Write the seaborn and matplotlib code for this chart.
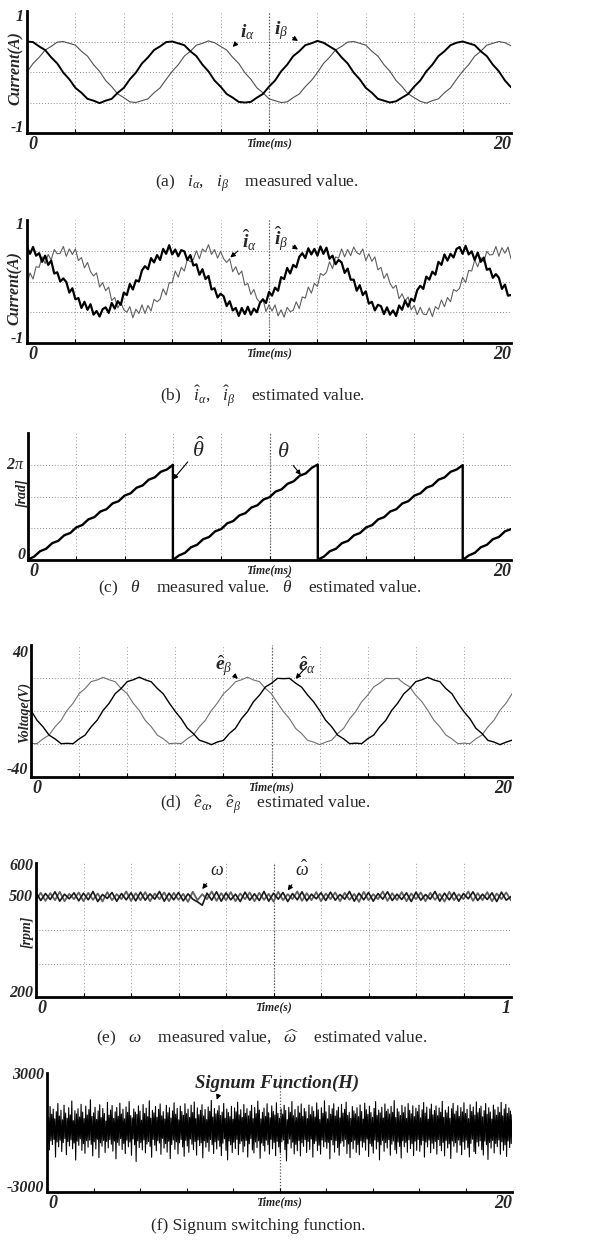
import numpy as np
import matplotlib
matplotlib.use("Agg")
import matplotlib.pyplot as plt
import seaborn as sns

# ---------------- data ----------------
# (a) measured currents, sampled every 0.25 ms
t_a = np.linspace(0, 20, 81)
i_alpha = [.00, .14, .24, .36, .42, .49, .50, .47, .44, .34, .26, .12, .01, -.14, -.24, -.36, -.42, -.49, -.50, -.47, -.44, -.34, -.26, -.12,
           .01, .12, .26, .34, .44, .47, .51, .48, .42, .36, .24, .14, -.01, -.12, -.26, -.34, -.44, -.47, -.50, -.49, -.42, -.36, -.24, -.14,
           -.01, .14, .24, .36, .42, .49, .50, .47, .44, .34, .26, .12, .01, -.14, -.24, -.36, -.42, -.48, -.51, -.47, -.44, -.34, -.26, -.12,
           .01, .12, .26, .34, .44, .47, .50, .48, .43]
i_beta = [.50, .49, .42, .36, .24, .14, -.01, -.12, -.26, -.34, -.44, -.47, -.51, -.47, -.44, -.34, -.26, -.12, -.01, .14, .24, .36, .42, .49,
          .50, .47, .44, .34, .26, .12, .01, -.14, -.24, -.36, -.42, -.49, -.50, -.49, -.42, -.36, -.24, -.14, .01, .12, .26, .34, .44, .47,
          .51, .48, .42, .36, .24, .14, -.01, -.12, -.26, -.34, -.44, -.47, -.50, -.48, -.42, -.36, -.24, -.14, .01, .12, .26, .34, .44, .48,
          .50, .47, .44, .34, .26, .12, .01, -.14, -.25]

# (b) estimated currents, sampled every 0.125 ms
t_b = np.linspace(0, 20, 161)
i_alpha_hat = [-.04, .14, .04, .24, .23, .40, .29, .44, .35, .52,
               .45, .46, .57, .41, .53, .44, .53, .34, .39, .22,
               .31, .16, .09, .14, -.09, -.02, -.15, -.09, -.31, -.26,
               -.43, -.34, -.46, -.50, -.41, -.59, -.45, -.52, -.38, -.52,
               -.39, -.48, -.29, -.33, -.29, -.12, -.22, -.02, -.02, .17,
               .07, .23, .17, .36, .32, .36, .50, .37, .53, .48,
               .60, .44, .52, .38, .49, .37, .31, .37, .16, .24,
               .11, .17, -.06, -.03, -.21, -.13, -.28, -.34, -.28, -.49,
               -.38, -.48, -.38, -.56, -.46, -.58, -.42, -.49, -.47, -.33,
               -.44, -.25, -.27, -.09, -.19, -.03, -.08, .13, .10, .15,
               .32, .21, .40, .38, .53, .40, .52, .42, .56, .47,
               .44, .53, .34, .45, .33, .40, .19, .23, .05, .13,
               -.03, -.11, -.06, -.28, -.20, -.32, -.25, -.46, -.39, -.54,
               -.42, -.53, -.54, -.43, -.57, -.41, -.45, -.30, -.41, -.26,
               -.33, -.13, -.16, -.11, .07, -.02, .18, .17, .35, .24,
               .39, .32, .49, .43, .44, .57, .41, .55, .46, .56,
               .37]
i_beta_hat = [.56, .45, .56, .42, .46, .32, .42, .27, .34, .13,
              .15, .00, .05, -.01, -.18, -.11, -.29, -.27, -.43, -.33,
              -.46, -.37, -.54, -.48, -.57, -.45, -.42, -.51, -.35, -.44,
              -.32, -.38, -.18, -.22, -.04, -.13, .02, .00, .18, .25,
              .20, .38, .31, .43, .35, .53, .45, .59, .44, .52,
              .41, .51, .49, .35, .43, .26, .28, .11, .20, .04,
              .09, -.13, -.11, -.26, -.20, -.24, -.40, -.32, -.47, -.43,
              -.56, -.43, -.53, -.41, -.54, -.44, -.50, -.35, -.29, -.35,
              -.17, -.23, -.10, -.15, .07, .04, .22, .13, .27, .23,
              .40, .46, .38, .54, .44, .53, .42, .57, .45, .55,
              .37, .42, .28, .35, .31, .14, .21, .03, .03, -.15,
              -.06, -.22, -.16, -.36, -.33, -.47, -.38, -.40, -.53, -.42,
              -.54, -.47, -.56, -.39, -.46, -.31, -.41, -.28, -.32, -.14,
              -.07, -.12, .08, .03, .16, .11, .32, .27, .44, .34,
              .45, .39, .53, .56, .45, .58, .44, .49, .35, .47,
              .32, .39, .19, .21, .06, .12, .06, -.12, -.05, -.23,
              -.22]

# (c) rotor angle (measured and estimated traces lie on top of each other)
t_theta = np.concatenate([np.linspace(0, 6, 25), np.linspace(6, 12, 25),
                          np.linspace(12, 18, 25), np.linspace(18, 20, 9)])
theta = [0.03, .22, .58, .74, 1.11, 1.26, 1.63, 1.78, 2.15, 2.31, 2.68, 2.83, 3.20, 3.35, 3.73, 3.88, 4.25, 4.40, 4.77, 4.92, 5.30, 5.45, 5.82, 5.97, 6.28,
         0.00, .30, .47, .84, 1.00, 1.37, 1.52, 1.89, 2.04, 2.42, 2.57, 2.94, 3.09, 3.46, 3.61, 3.99, 4.14, 4.51, 4.66, 5.03, 5.19, 5.56, 5.71, 6.08, 6.30,
         0.03, .22, .58, .74, 1.11, 1.26, 1.63, 1.78, 2.15, 2.30, 2.68, 2.83, 3.20, 3.35, 3.73, 3.88, 4.25, 4.40, 4.77, 4.92, 5.30, 5.45, 5.82, 5.97, 6.26,
         0.00, .30, .47, .84, 1.00, 1.37, 1.52, 1.89, 2.04]

# (d) estimated back-EMF, sampled every 0.25 ms
t_d = np.linspace(0, 20, 81)
e_alpha_hat = [0.3, -5.6, -9.6, -14.6, -16.9, -19.8, -19.6, -19.8, -16.9, -14.6, -9.6, -5.6, 0.4, 4.7, 10.5, 13.7, 17.8, 18.9, 20.5, 18.9, 17.7, 13.7, 10.4, 4.8,
               -0.3, -4.8, -10.4, -13.7, -17.7, -18.9, -20.4, -18.8, -17.8, -13.6, -10.5, -4.7, -0.4, 5.6, 9.6, 14.6, 16.8, 19.8, 19.6, 19.8, 16.9, 14.5, 9.7, 5.6,
               0.3, -5.6, -9.5, -14.6, -16.9, -19.8, -19.5, -19.8, -16.8, -14.6, -9.6, -5.7, 0.4, 4.8, 10.4, 13.7, 17.8, 18.9, 20.4, 18.8, 17.8, 13.6, 10.5, 4.7,
               -0.4, -4.7, -10.5, -13.6, -17.8, -18.8, -20.4, -18.9, -17.7]
e_beta_hat = [-19.6, -19.8, -16.9, -14.6, -9.6, -5.7, 0.4, 4.7, 10.5, 13.6, 17.8, 18.8, 20.4, 18.9, 17.8, 13.6, 10.5, 4.7, 0.4, -5.7, -9.5, -14.6, -16.8, -19.8,
              -19.5, -19.8, -16.8, -14.6, -9.6, -5.6, 0.3, 4.8, 10.4, 13.7, 17.7, 18.9, 20.5, 18.8, 17.8, 13.6, 10.4, 4.8, -0.4, -4.7, -10.5, -13.6, -17.8, -18.8,
              -20.4, -18.9, -17.7, -13.7, -10.5, -4.7, -0.3, 5.6, 9.6, 14.6, 16.9, 19.8, 19.6, 19.8, 16.8, 14.6, 9.5, 5.7, 0.4, -5.6, -9.6, -14.5, -16.9, -19.8,
              -19.5, -19.8, -16.8, -14.6, -9.6, -5.6, 0.4, 4.7, 10.4]

# (e) speed, sampled every 10 ms over 1 s
t_e = np.linspace(0, 1, 101)
omega = [512, 488, 509, 491, 514, 486, 507, 493, 511, 487,
         510, 490, 515, 485, 506, 494, 512, 486, 509, 490,
         511, 487, 513, 489, 508, 492, 515, 486, 510, 490,
         512, 487, 508, 492, 484, 474, 510, 489, 514, 486,
         511, 490, 507, 485, 513, 489, 508, 488, 515, 486,
         510, 492, 512, 485, 509, 490, 514, 487, 507, 493,
         511, 488, 513, 489, 506, 492, 515, 486, 510, 490,
         512, 486, 509, 492, 514, 488, 507, 491, 511, 485,
         513, 489, 506, 492, 515, 486, 510, 490, 512, 486,
         509, 493, 514, 488, 507, 491, 511, 485, 513, 489,
         500]
omega_hat = [490, 511, 487, 510, 489, 514, 486, 508, 492, 512,
             486, 511, 490, 509, 485, 513, 489, 507, 492, 515,
             487, 510, 489, 513, 486, 509, 492, 512, 486, 511,
             490, 508, 484, 514, 489, 507, 492, 515, 487, 510,
             489, 513, 486, 509, 492, 512, 486, 511, 490, 508,
             485, 514, 489, 507, 492, 515, 487, 510, 489, 513,
             486, 509, 492, 512, 486, 511, 490, 508, 484, 514,
             489, 507, 492, 515, 487, 510, 489, 513, 486, 509,
             492, 512, 486, 511, 490, 508, 485, 514, 489, 507,
             492, 515, 487, 510, 489, 513, 486, 509, 492, 512,
             488]

# (f) signum switching function H, sampled every 1/30 ms
t_f = np.linspace(0, 20, 601)
signum_h = [1020, -540, 760, -880, 1310, -420, 920, -610, 1180, -350, 690, -1240, 1050, -480, 1460, -720, 830, -390, 1120, -960,
            640, -510, 1380, -300, 980, -1120, 720, -460, 1250, -680, 890, -370, 1590, -820, 600, -530, 1100, -1390, 940, -440,
            1200, -650, 780, -320, 1420, -900, 1030, -560, 700, -1050, 1330, -410, 880, -740, 1150, -380, 1650, -600, 810, -1180,
            990, -470, 1270, -830, 660, -340, 1090, -1270, 1400, -520, 750, -690, 1210, -400, 960, -1010, 580, -450, 1520, -780,
            870, -360, 1130, -590, 1360, -940, 710, -430, 1040, -1330, 1260, -500, 820, -650, 1480, -310, 930, -860, 1170, -550,
            690, -1060, 1290, -390, 1010, -720, 1560, -480, 850, -1150, 740, -330, 1190, -620, 1030, -1460, 910, -420, 1340, -760,
            1080, -510, 620, -880, 1410, -370, 960, -1030, 1230, -580, 800, -460, 1600, -700, 720, -1250, 1120, -350, 990, -640,
            1310, -920, 770, -410, 1170, -530, 1440, -1100, 840, -300, 1050, -790, 680, -560, 1370, -990, 1000, -440, 1250, -1320,
            730, -610, 1090, -380, 1500, -850, 920, -470, 1220, -1080, 640, -520, 1330, -350, 1060, -730, 870, -1200, 1450, -400,
            950, -680, 1180, -1000, 760, -330, 1380, -590, 1010, -870, 1540, -450, 700, -1140, 1240, -380, 900, -660, 1120, -520,
            1400, -1280, 830, -420, 1160, -740, 650, -500, 1290, -950, 1070, -360, 1620, -610, 780, -1060, 1210, -470, 940, -830,
            1100, -390, 1350, -700, 860, -1170, 1030, -540, 1470, -320, 720, -900, 1190, -1380, 1010, -430, 800, -620, 1320, -1010,
            670, -490, 1240, -810, 1040, -350, 1530, -1120, 890, -560, 1150, -430, 760, -980, 1410, -690, 970, -400, 1200, -1240,
            840, -570, 1080, -310, 1370, -880, 700, -1030, 1260, -480, 950, -760, 1580, -420, 1130, -1300, 690, -530, 1020, -660,
            1230, -940, 810, -390, 1450, -610, 1000, -1090, 740, -350, 1340, -820, 1060, -500, 880, -1170, 1500, -450, 960, -730,
            720, -1020, 1190, -470, 930, -380, 1380, -860, 1110, -1430, 650, -560, 1270, -330, 1020, -780, 1560, -490, 850, -1080,
            1160, -600, 750, -920, 1330, -410, 990, -1180, 1440, -520, 820, -700, 1210, -360, 1050, -1010, 700, -450, 1390, -850,
            900, -330, 1300, -1240, 1070, -560, 780, -430, 1490, -910, 1140, -640, 660, -1090, 1250, -380, 970, -720, 1600, -470,
            1040, -800, 690, -500, 1360, -1330, 920, -370, 1200, -620, 1450, -990, 830, -410, 1100, -760, 1280, -1150, 740, -540,
            1420, -430, 980, -700, 1170, -350, 1530, -1060, 860, -580, 1020, -1270, 710, -460, 1310, -830, 1090, -390, 940, -1000,
            1250, -610, 800, -1120, 1390, -420, 1060, -740, 680, -500, 1480, -890, 1150, -330, 920, -1210, 1330, -560, 1010, -690,
            770, -1040, 1220, -380, 1560, -830, 870, -470, 1130, -1380, 990, -620, 1270, -400, 730, -950, 1440, -510, 1070, -780,
            1180, -360, 930, -1150, 1320, -590, 1020, -430, 1610, -870, 760, -1050, 1200, -480, 1040, -700, 860, -1290, 1370, -420,
            1000, -720, 1290, -500, 710, -1000, 1460, -370, 1120, -810, 940, -560, 1350, -1160, 800, -440, 1230, -900, 1050, -350,
            1380, -950, 740, -630, 1150, -410, 1510, -1240, 980, -480, 1280, -730, 670, -380, 1190, -1020, 1430, -540, 890, -810,
            1110, -450, 1340, -1090, 850, -360, 1240, -660, 1020, -920, 1570, -500, 760, -1180, 1130, -410, 990, -780, 1300, -570,
            720, -1310, 1200, -430, 1470, -700, 930, -520, 1080, -1000, 1350, -380, 810, -640, 1260, -1120, 1040, -470, 1500, -850,
            960, -390, 1170, -760, 700, -1230, 1400, -550, 1060, -340, 1290, -960, 880, -1060, 1540, -480, 1000, -690, 1210, -420,
            1330, -870, 790, -1140, 1100, -440, 1460, -620, 920, -1360, 1250, -510, 1030, -790, 680, -400, 1380, -1030, 1150, -560,
            870, -710, 1280, -380, 1010, -1100, 1520, -470, 840, -900, 1190, -620, 1420, -1210, 960, -430, 1240, -760, 1080, -560,
            900]

# ---------------- figure ----------------
sns.set_theme(style="white")
plt.rcParams["font.family"] = ["Liberation Serif", "DejaVu Serif"]
# math in Times-like serif; \mathbf gives the bold italic used for trace labels
plt.rcParams["mathtext.fontset"] = "custom"
plt.rcParams["mathtext.rm"] = "Liberation Serif"
plt.rcParams["mathtext.it"] = "Liberation Serif:italic"
plt.rcParams["mathtext.bf"] = "Liberation Serif:bold:italic"
plt.rcParams["mathtext.fallback"] = "stix"

W, H = 608, 1247
fig = plt.figure(figsize=(W / 100, H / 100), dpi=100)
BI = dict(family="Liberation Serif", weight="bold", style="italic")


def panel(box, xmax, ylim, hgrid, xend, ylab, ylab_off, ylab_frac, ylab_size, yticks):
    x0, y0, x1, y1 = box
    ax = fig.add_axes([x0 / W, 1 - y1 / H, (x1 - x0) / W, (y1 - y0) / H])
    ax.set_xlim(0, xmax)
    ax.set_ylim(*ylim)
    sns.despine(ax=ax)
    for side in ("left", "bottom"):
        ax.spines[side].set_linewidth(2.0)
        ax.spines[side].set_color("black")
    xg = np.linspace(0, xmax, 11)[1:-1]
    ax.set_xticks(xg)
    ax.set_xticklabels([])
    ax.set_yticks([])
    ax.tick_params(axis="x", bottom=True, direction="in", length=3, width=0.8, color="black")
    if hgrid is not None:
        for x in xg:
            ax.axvline(x, color="#9a9a9a", lw=0.7, ls=(0, (1, 2.5)), zorder=0)
        for y in hgrid:
            ax.axhline(y, color="#8a8a8a", lw=0.7, ls=(0, (1, 2)), zorder=0)
    ax.axvline(xmax / 2, color="#555555", lw=0.9, ls=(0, (1, 1.5)), zorder=0)
    ax.set_xlabel("")
    ax.set_ylabel("")
    ax.annotate("0", xy=(0, 0), xycoords="axes fraction", xytext=(1, -3),
                textcoords="offset pixels", ha="left", va="top", fontsize=13, **BI)
    ax.annotate(xend, xy=(1, 0), xycoords="axes fraction", xytext=(0, -3),
                textcoords="offset pixels", ha="right", va="top", fontsize=13, **BI)
    unit = "Time(s)" if xend == "1" else "Time(ms)"
    ax.annotate(unit, xy=(0.5, 0), xycoords="axes fraction", xytext=(0, -4),
                textcoords="offset pixels", ha="center", va="top", fontsize=8.5, **BI)
    if ylab:
        ax.annotate(ylab, xy=(0, ylab_frac), xycoords="axes fraction", xytext=(-ylab_off, 0),
                    textcoords="offset pixels", rotation=90, ha="center", va="center",
                    fontsize=ylab_size, **BI)
    for val, txt in yticks:
        ax.annotate(txt, xy=(0, val), xycoords=("axes fraction", "data"), xytext=(-3, 0),
                    textcoords="offset pixels", ha="right", va="center", fontsize=11.5, **BI)
    return ax


def label(ax, txt, tip, pos, size=14):
    ax.annotate(txt, xy=tip, xytext=pos, ha="center", va="center", fontsize=size,
                arrowprops=dict(arrowstyle="-|>", color="black", lw=0.8,
                                mutation_scale=7, shrinkA=1, shrinkB=0))


def caption(x, y, txt):
    fig.text(x / W, 1 - y / H, txt, ha="center", va="center", fontsize=12.5,
             family="Liberation Serif")


# (a)
ax = panel((27, 11, 511, 133), 20, (-1, 1), [-0.5, 0, 0.5], "20", "Current(A)", 11, 0.53, 11.5,
           [(0.9, "1"), (-0.92, "-1")])
sns.lineplot(x=t_a, y=i_alpha, ax=ax, color="#505050", linewidth=0.8, estimator=None, sort=False)
sns.lineplot(x=t_a, y=i_beta, ax=ax, color="black", linewidth=1.4, estimator=None, sort=False)
label(ax, r"$\mathbf{i}_\alpha$", (8.5, 0.41), (9.1, 0.66))
label(ax, r"$\mathbf{i}_\beta$", (11.2, 0.51), (10.5, 0.68))
caption(257, 183, r"(a)   $i_\alpha$,   $i_\beta$    measured value.")

# (b)
ax = panel((27, 220, 511, 343), 20, (-1, 1), [-0.5, 0, 0.5], "20", "Current(A)", 12, 0.45, 11.5,
           [(0.92, "1"), (-0.94, "-1")])
sns.lineplot(x=t_b, y=i_alpha_hat, ax=ax, color="#606060", linewidth=0.8, estimator=None, sort=False)
sns.lineplot(x=t_b, y=i_beta_hat, ax=ax, color="black", linewidth=1.6, estimator=None, sort=False)
label(ax, r"$\hat{\mathbf{i}}_\alpha$", (8.4, 0.39), (9.2, 0.66))
label(ax, r"$\hat{\mathbf{i}}_\beta$", (11.2, 0.52), (10.5, 0.70))
caption(262, 396, r"(b)   $\hat{i}_\alpha$,   $\hat{i}_\beta$    estimated value.")

# (c)
tp = 2 * np.pi
ax = panel((28, 433, 511, 560), 20, (0, 4 * tp / 3), [tp / 3, 2 * tp / 3, tp], "20", "[rad]", 6, 0.53, 10,
           [(tp, r"2$\pi$"), (0.35, "0")])
sns.lineplot(x=t_theta, y=theta, ax=ax, color="black", linewidth=1.7, estimator=None, sort=False)
label(ax, r"$\hat{\theta}$", (6.0, 5.3), (7.05, 7.3), size=16)
label(ax, r"$\theta$", (11.3, 5.6), (10.55, 7.1), size=16)
caption(260, 586, r"(c)   $\theta$    measured value.   $\hat{\theta}$    estimated value.")

# (d)
ax = panel((31, 645, 512, 777), 20, (-40, 40), [-20, 0, 20], "20", "Voltage(V)", 7, 0.49, 10,
           [(35, "40"), (-36, "-40")])
sns.lineplot(x=t_d, y=e_beta_hat, ax=ax, color="#707070", linewidth=0.8, estimator=None, sort=False)
sns.lineplot(x=t_d, y=e_alpha_hat, ax=ax, color="black", linewidth=1.0, estimator=None, sort=False)
label(ax, r"$\hat{\mathbf{e}}_\beta$", (8.6, 19.5), (8.0, 27.5))
label(ax, r"$\hat{\mathbf{e}}_\alpha$", (11.0, 19.5), (11.5, 27.5))
caption(265, 805, r"(d)   $\hat{e}_\alpha$,   $\hat{e}_\beta$    estimated value.")

# (e)
ax = panel((36, 863, 511, 997), 1, (200, 600), [300, 400], "1", "[rpm]", 9, 0.49, 10,
           [(590, "600"), (498, "500"), (212, "200")])
sns.lineplot(x=t_e, y=omega_hat, ax=ax, color="#606060", linewidth=1.3, estimator=None, sort=False)
sns.lineplot(x=t_e, y=omega, ax=ax, color="#1a1a1a", linewidth=1.2, estimator=None, sort=False)
label(ax, r"$\omega$", (0.35, 522), (0.38, 577), size=13)
label(ax, r"$\hat{\omega}$", (0.53, 518), (0.56, 577), size=13)
caption(262, 1038, r"(e)   $\omega$    measured value,   $\widehat{\omega}$    estimated value.")

# (f)
ax = panel((47, 1073, 512, 1192), 20, (-3000, 3000), None, "20", None, 0, 0, 10,
           [(2900, "3000"), (-2800, "-3000")])
sns.lineplot(x=t_f, y=signum_h, ax=ax, color="black", linewidth=0.8, estimator=None, sort=False)
ax.annotate("Signum Function(H)", xy=(7.3, 1650), xytext=(9.9, 2500), ha="center", va="center",
            fontsize=13.5, arrowprops=dict(arrowstyle="-|>", color="black", lw=0.8,
                                           mutation_scale=7, shrinkA=0, shrinkB=0,
                                           relpos=(0.15, 0.0)), **BI)
caption(258, 1226, "(f) Signum switching function.")

fig.savefig("out.png", dpi=100, facecolor="white")
